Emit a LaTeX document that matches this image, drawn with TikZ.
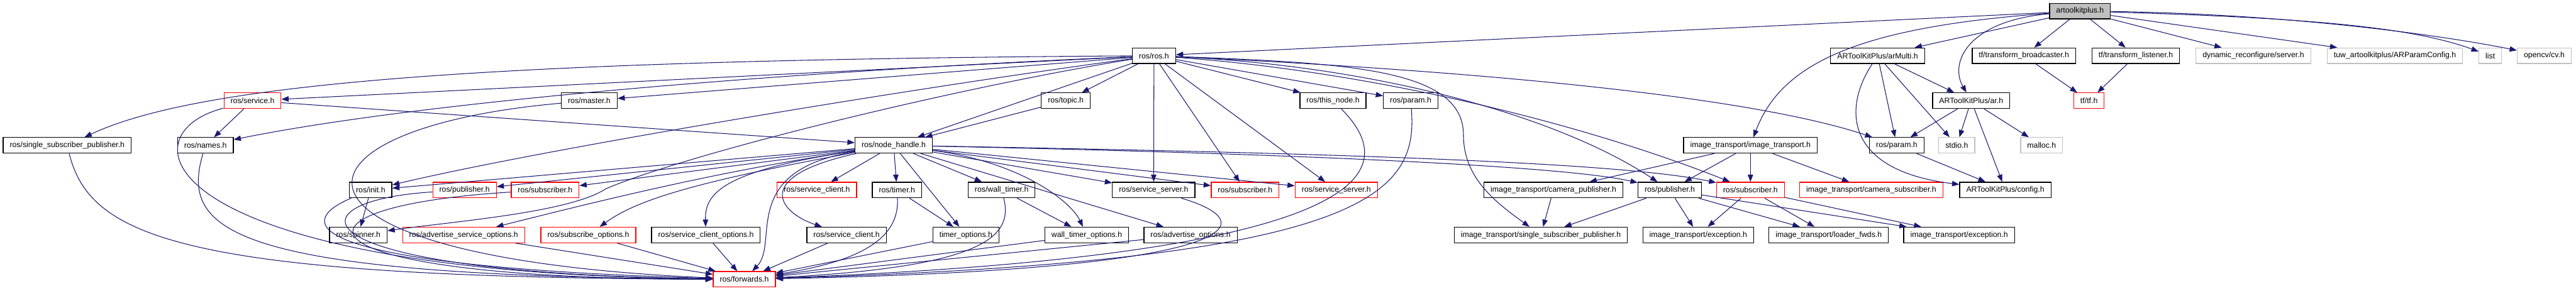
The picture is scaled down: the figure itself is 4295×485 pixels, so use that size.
\documentclass[tikz,border=0pt]{standalone}
\usepackage{fontspec}
\setmainfont{Liberation Sans}
\usetikzlibrary{arrows.meta}
\definecolor{edgecol}{HTML}{191970}
\definecolor{grayb}{HTML}{BFBFBF}
\definecolor{redb}{HTML}{FF0000}
\begin{document}
\begin{tikzpicture}[x=1pt,y=1pt,
  box/.style={draw=black,line width=1.3pt,fill=white,minimum height=26pt,inner xsep=11pt,inner ysep=0pt,font=\fontsize{12.9}{15}\selectfont},
  redbox/.style={box,draw=redb},
  extbox/.style={box,draw=grayb},
  rootbox/.style={box,fill=grayb},
  dep/.style={draw=edgecol,line width=1.1pt,-{Triangle[length=12pt,width=9pt]}}]
\useasboundingbox (0,0) rectangle (4295,485);
\fill[white] (0,0) rectangle (4295,485);
% row 0
\node[rootbox] (A) at (3468,466.5) {artoolkitplus.h};
% row 1
\node[box] (R) at (1924,392) {ros/ros.h};
\node[box] (M) at (3130.5,392) {ARToolKitPlus/arMulti.h};
\node[box] (TB) at (3374.5,392) {tf/transform\_broadcaster.h};
\node[box] (TL) at (3561,392) {tf/transform\_listener.h};
\node[extbox] (DR) at (3757,392) {dynamic\_reconfigure/server.h};
\node[extbox] (AP) at (3993,392) {tuw\_artoolkitplus/ARParamConfig.h};
\node[extbox] (LI) at (4152,392) {list};
\node[extbox] (CV) at (4242,392) {opencv/cv.h};
% row 2
\node[redbox] (SV) at (421,317) {ros/service.h};
\node[box] (MA) at (982.5,317) {ros/master.h};
\node[box] (TO) at (1777,317) {ros/topic.h};
\node[box] (TN) at (2222.5,317) {ros/this\_node.h};
\node[box] (P1) at (2352,317) {ros/param.h};
\node[box] (AR) at (3286.5,317) {ARToolKitPlus/ar.h};
\node[redbox] (TF) at (3483,317) {tf/tf.h};
% row 3
\node[box] (SSP) at (112,242.5) {ros/single\_subscriber\_publisher.h};
\node[box] (NM) at (342.5,242.5) {ros/names.h};
\node[box] (N) at (1490,242.5) {ros/node\_handle.h};
\node[box] (IT) at (2918.5,242.5) {image\_transport/image\_transport.h};
\node[box] (P2) at (3162.5,242.5) {ros/param.h};
\node[extbox] (ST) at (3262.5,242.5) {stdio.h};
\node[extbox] (ML) at (3404,242.5) {malloc.h};
% row 4
\node[box] (IN) at (618,168) {ros/init.h};
\node[redbox] (PR) at (774.5,168) {ros/publisher.h};
\node[redbox] (SR) at (909,168) {ros/subscriber.h};
\node[redbox] (SC) at (1362,168) {ros/service\_client.h};
\node[box] (TI) at (1495.5,168) {ros/timer.h};
\node[box] (WT) at (1670,168) {ros/wall\_timer.h};
\node[box] (SS) at (1923.5,168) {ros/service\_server.h};
\node[redbox] (SR2) at (2076,168) {ros/subscriber.h};
\node[redbox] (SS2) at (2228,168) {ros/service\_server.h};
\node[box] (CP) at (2590,168) {image\_transport/camera\_publisher.h};
\node[box] (PB) at (2784,168) {ros/publisher.h};
\node[redbox] (SR3) at (2918.5,168) {ros/subscriber.h};
\node[redbox] (CS) at (3120,168) {image\_transport/camera\_subscriber.h};
\node[box] (CF) at (3343.5,168) {ARToolKitPlus/config.h};
% row 5
\node[box] (SP) at (597.5,93) {ros/spinner.h};
\node[redbox] (ASO) at (773,93) {ros/advertise\_service\_options.h};
\node[redbox] (SO) at (981,93) {ros/subscribe\_options.h};
\node[box] (SCO) at (1177,93) {ros/service\_client\_options.h};
\node[box] (SC2) at (1411.5,93) {ros/service\_client.h};
\node[box] (TOP) at (1610.5,93) {timer\_options.h};
\node[box] (WTO) at (1812,93) {wall\_timer\_options.h};
\node[box] (AO) at (1985,93) {ros/advertise\_options.h};
\node[box] (ISSP) at (2569,93) {image\_transport/single\_subscriber\_publisher.h};
\node[box] (EX1) at (2831.5,93) {image\_transport/exception.h};
\node[box] (LF) at (3049,93) {image\_transport/loader\_fwds.h};
\node[box] (EX2) at (3266.5,93) {image\_transport/exception.h};
% row 6
\node[redbox] (F) at (1241,19) {ros/forwards.h};

% artoolkitplus.h
\draw[dep] (A) -- (R);
\draw[dep] (A) .. controls (3100,440) and (2970,380) .. (IT);
\draw[dep] (A) -- (M);
\draw[dep] (A) .. controls (3280,450) and (3250,380) .. (AR);
\draw[dep] (A) -- (TB);
\draw[dep] (A) -- (TL);
\draw[dep] (A) -- (DR);
\draw[dep] (A) -- (AP);
\draw[dep] (A) .. controls (3850,455) and (4020,440) .. (LI);
\draw[dep] (A) .. controls (3800,462) and (4050,430) .. (CV);
% ros.h
\draw[dep] (R) .. controls (800,385) and (330,345) .. (SSP);
\draw[dep] (R) -- (SV);
\draw[dep] (R) .. controls (1300,365) and (700,315) .. (NM);
\draw[dep] (R) -- (MA);
\draw[dep] (R) .. controls (1500,335) and (900,235) .. (IN);
\draw[dep] (R) .. controls (1600,340) and (1150,230) .. (1010,170) .. controls (950,130) and (750,115) .. (SP);
\draw[dep] (R) -- (N);
\draw[dep] (R) -- (TO);
\draw[dep] (R) -- (TN);
\draw[dep] (R) -- (P1);
\draw[dep] (R) -- (SS);
\draw[dep] (R) -- (SR2);
\draw[dep] (R) -- (SS2);
\draw[dep] (R) .. controls (2300,375) and (2600,290) .. (PB);
\draw[dep] (R) .. controls (2300,365) and (2650,275) .. (SR3);
\draw[dep] (R) .. controls (2250,380) and (2440,370) .. (2440,260) .. controls (2440,190) and (2490,150) .. (ISSP);
\draw[dep] (R) .. controls (2400,370) and (2900,330) .. (P2);
% service.h etc.
\draw[dep] (SV) -- (NM);
\draw[dep] (SV) -- (N);
\draw[dep] (SV) .. controls (200,260) and (260,30) .. (F);
\draw[dep] (MA) .. controls (450,270) and (420,55) .. (F);
\draw[dep] (TO) -- (N);
\draw[dep] (TN) .. controls (2340,200) and (2300,60) .. (F);
\draw[dep] (P1) .. controls (2365,160) and (2280,50) .. (F);
\draw[dep] (SSP) .. controls (150,90) and (300,22) .. (F);
\draw[dep] (NM) .. controls (300,100) and (380,25) .. (F);
\draw[dep] (IN) -- (SP);
\draw[dep] (IN) .. controls (480,110) and (520,40) .. (F);
\draw[dep] (PR) .. controls (480,150) and (480,30) .. (F);
\draw[dep] (SR) .. controls (450,140) and (470,20) .. (F);
% node_handle.h
\draw[dep] (N) -- (IN);
\draw[dep] (N) -- (PR);
\draw[dep] (N) -- (SR);
\draw[dep] (N) .. controls (1200,200) and (1000,150) .. (ASO);
\draw[dep] (N) .. controls (1150,180) and (1060,150) .. (SO);
\draw[dep] (N) .. controls (1200,200) and (1175,160) .. (SCO);
\draw[dep] (N) .. controls (1230,200) and (1300,80) .. (F);
\draw[dep] (N) -- (SC);
\draw[dep] (N) .. controls (1250,190) and (1300,130) .. (SC2);
\draw[dep] (N) -- (TI);
\draw[dep] (N) -- (TOP);
\draw[dep] (N) -- (WT);
\draw[dep] (N) .. controls (1700,215) and (1785,150) .. (WTO);
\draw[dep] (N) -- (AO);
\draw[dep] (N) -- (SS);
\draw[dep] (N) -- (SR2);
\draw[dep] (N) -- (SS2);
\draw[dep] (N) .. controls (2100,230) and (2600,210) .. (PB);
\draw[dep] (N) .. controls (2200,230) and (2700,215) .. (SR3);
% image_transport
\draw[dep] (IT) -- (CP);
\draw[dep] (IT) -- (PB);
\draw[dep] (IT) -- (SR3);
\draw[dep] (IT) -- (CS);
\draw[dep] (CP) -- (ISSP);
\draw[dep] (PB) -- (ISSP);
\draw[dep] (PB) -- (EX1);
\draw[dep] (PB) -- (LF);
\draw[dep] (PB) -- (EX2);
\draw[dep] (SR3) -- (EX1);
\draw[dep] (SR3) -- (LF);
\draw[dep] (SR3) -- (EX2);
% ARToolKitPlus
\draw[dep] (M) -- (AR);
\draw[dep] (M) -- (P2);
\draw[dep] (M) -- (ST);
\draw[dep] (M) .. controls (3070,300) and (3080,200) .. (CF);
\draw[dep] (AR) -- (P2);
\draw[dep] (AR) -- (ST);
\draw[dep] (AR) -- (ML);
\draw[dep] (AR) -- (CF);
\draw[dep] (P2) -- (CF);
\draw[dep] (TB) -- (TF);
\draw[dep] (TL) -- (TF);
% timers and options
\draw[dep] (TI) -- (TOP);
\draw[dep] (TI) .. controls (1500,90) and (1440,50) .. (F);
\draw[dep] (WT) -- (WTO);
\draw[dep] (WT) .. controls (1690,90) and (1640,40) .. (F);
\draw[dep] (SS) .. controls (2120,110) and (2060,35) .. (F);
\draw[dep] (SC2) -- (F);
\draw[dep] (TOP) -- (F);
\draw[dep] (WTO) -- (F);
\draw[dep] (AO) -- (F);
\draw[dep] (ASO) -- (F);
\draw[dep] (SO) -- (F);
\draw[dep] (SCO) -- (F);
\end{tikzpicture}
\end{document}
